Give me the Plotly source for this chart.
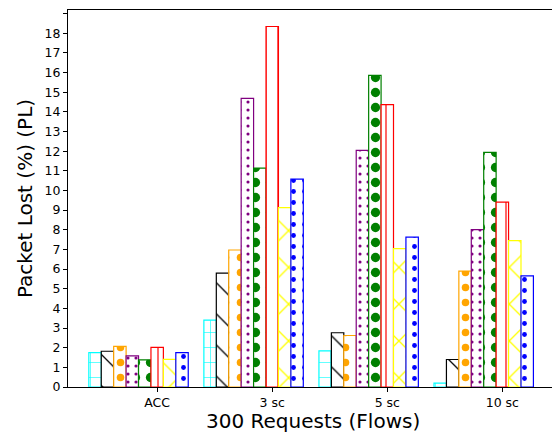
import plotly.graph_objects as go

categories = ["ACC", "3 sc", "5 sc", "10 sc"]

s_cyan = [1.75, 3.40, 1.84, 0.20]
s_black = [1.82, 5.79, 2.76, 1.40]
s_orange = [2.07, 6.97, 2.62, 5.90]
s_purple = [1.58, 14.68, 12.04, 8.01]
s_green = [1.38, 11.14, 15.85, 11.94]
s_red = [2.02, 18.34, 14.37, 9.41]
s_yellow = [1.41, 9.13, 7.04, 7.45]
s_blue = [1.75, 10.58, 7.62, 5.65]

series = [s_cyan, s_black, s_orange, s_purple, s_green, s_red, s_yellow, s_blue]
colors = ["#00ffff", "#000000", "#ffa500", "#800080", "#008000", "#ff0000", "#ffff00", "#0000ff"]
patterns = [
    dict(shape="+", size=15, solidity=0.08),
    dict(shape="\\", size=22, solidity=0.06),
    dict(shape=".", size=15, solidity=0.2),
    dict(shape=".", size=8, solidity=0.12),
    dict(shape=".", size=15, solidity=0.3),
    dict(shape="|", size=12, solidity=0.1),
    dict(shape="x", size=26, solidity=0.1),
    dict(shape=".", size=11, solidity=0.15),
]

w = 0.108
fig = go.Figure()
for i, (vals, c, p) in enumerate(zip(series, colors, patterns)):
    xs = [g + (i - 5) * w for g in range(len(categories))]
    fig.add_trace(go.Bar(
        x=xs, y=vals, width=w,
        marker=dict(color="white", line=dict(color=c, width=1.2),
                    pattern=dict(fgcolor=c, bgcolor="white", fillmode="replace", **p)),
        showlegend=False,
    ))

fig.update_layout(
    barmode="overlay",
    width=552, height=424,
    margin=dict(l=60, r=3, t=2, b=45),
    plot_bgcolor="white", paper_bgcolor="white",
    font=dict(family="DejaVu Sans", color="black"),
    annotations=[dict(
        text="300 Requests (Flows)", xref="paper", yref="paper",
        x=0.5, y=0, xanchor="center", yanchor="middle", yshift=-34,
        showarrow=False, font=dict(size=20),
    )],
)
fig.update_xaxes(
    range=[-0.775, 3.475],
    tickvals=list(range(len(categories))), ticktext=categories,
    ticks="outside", ticklen=4, tickcolor="black",
    showline=True, linecolor="black", linewidth=1, mirror=True,
    showgrid=False, zeroline=False, automargin=False,
    tickfont=dict(size=12.5),
)
fig.update_yaxes(
    range=[0, 19.18], dtick=1, tick0=0,
    ticks="outside", ticklen=4, tickcolor="black",
    showline=True, linecolor="black", linewidth=1, mirror=True,
    showgrid=False, zeroline=False, automargin=False,
    tickfont=dict(size=12.5),
    title=dict(text="Packet Lost (%) (PL)", font=dict(size=20), standoff=6),
)

fig.write_html("out.html")
